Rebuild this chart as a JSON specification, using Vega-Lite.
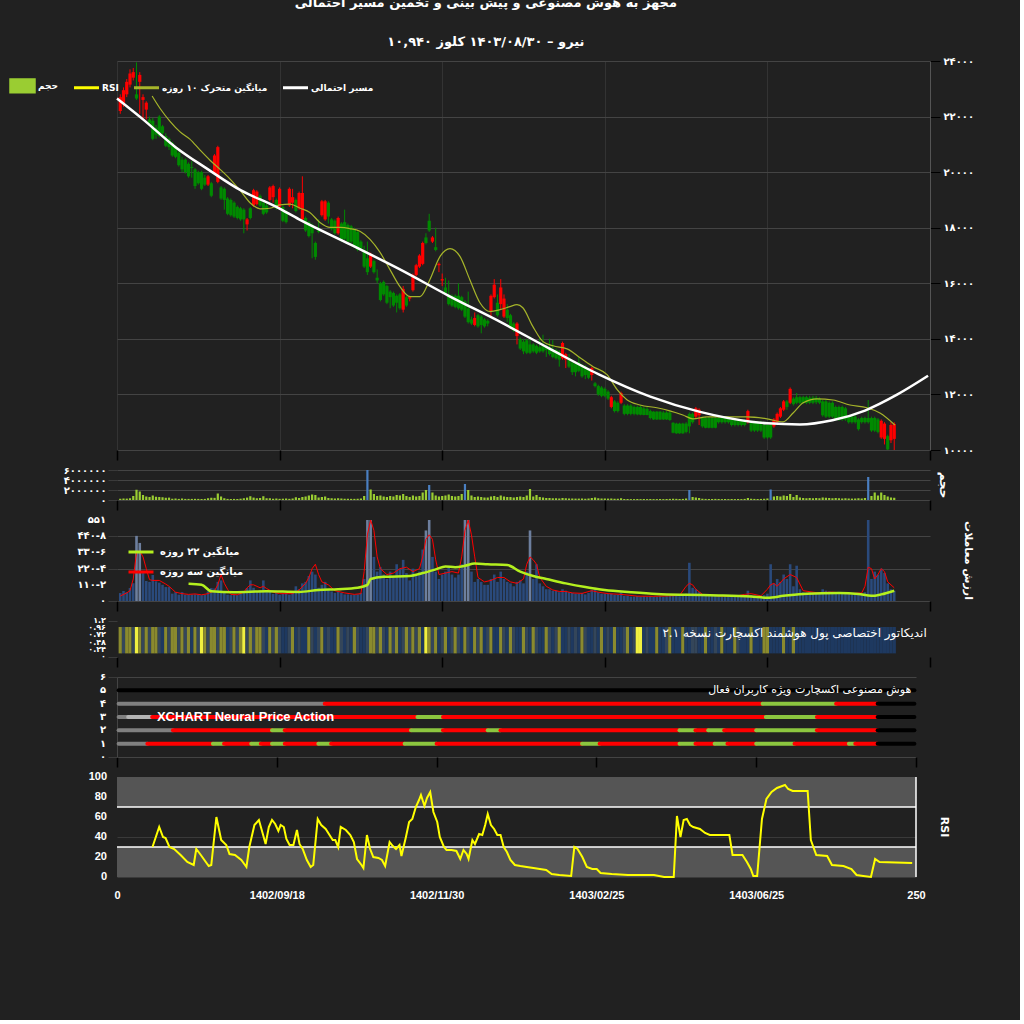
{
"$schema":"https://vega.github.io/schema/vega-lite/v6.json",
"background":"#212121",
"padding":{"left":18,"right":46,"top":-3,"bottom":120},
"title":{"text":["مجهز به هوش مصنوعی و پیش بینی و تخمین مسیر احتمالی","نیرو – ۱۴۰۳/۰۸/۳۰ کلوز ۱۰,۹۴۰"],"color":"white","font":"DejaVu Sans","fontSize":13,"fontWeight":"bold","anchor":"middle","offset":7,"lineHeight":39,"dx":-10},
"config":{"view":{"stroke":null},"axis":{"labelFlush":false,"labelBound":false,"titleColor":"white","labelColor":"white","labelFont":"DejaVu Sans","labelFontWeight":"bold"}},
"datasets":{
"c":[
{"i":1,"o":22200,"h":22800,"l":22100,"c":22700,"v":250000,"val":54,"s":2},
{"i":2,"o":22450,"h":23050,"l":22350,"c":22950,"v":300000,"val":68,"s":1},
{"i":3,"o":22800,"h":23350,"l":22700,"c":23250,"v":280000,"val":60,"s":2},
{"i":4,"o":23150,"h":23700,"l":23050,"c":23550,"v":350000,"val":88,"s":2},
{"i":5,"o":23400,"h":23750,"l":23300,"c":23600,"v":800000,"val":120,"s":1},
{"i":6,"o":22800,"h":23950,"l":22600,"c":22650,"v":2050000,"val":443,"s":3,"vc":"l"},
{"i":7,"o":23250,"h":23600,"l":22100,"c":23500,"v":1700000,"val":395,"s":2,"vc":"l"},
{"i":8,"o":22600,"h":22800,"l":21900,"c":22700,"v":1000000,"val":190,"s":1},
{"i":9,"o":22250,"h":22550,"l":21900,"c":22500,"v":700000,"val":136,"s":2},
{"i":10,"o":21900,"h":22000,"l":21700,"c":21750,"v":600000,"val":130,"s":1},
{"i":11,"o":21850,"h":21950,"l":21150,"c":21200,"v":900000,"val":177,"s":2},
{"i":12,"o":21600,"h":21700,"l":21200,"c":21350,"v":650000,"val":134,"s":2},
{"i":13,"o":22000,"h":22050,"l":21250,"c":21300,"v":600000,"val":125,"s":1},
{"i":14,"o":21650,"h":21700,"l":21300,"c":21400,"v":550000,"val":110,"s":0},
{"i":15,"o":21300,"h":21400,"l":20900,"c":20950,"v":450000,"val":95,"s":2},
{"i":16,"o":21200,"h":21250,"l":20800,"c":20900,"v":480000,"val":95,"s":1},
{"i":17,"o":21050,"h":21100,"l":20550,"c":20600,"v":250000,"val":50,"s":2},
{"i":18,"o":20900,"h":20950,"l":20500,"c":20550,"v":300000,"val":60,"s":2},
{"i":19,"o":20700,"h":20750,"l":20200,"c":20250,"v":220000,"val":43,"s":1},
{"i":20,"o":20450,"h":20550,"l":20000,"c":20100,"v":300000,"val":60,"s":2},
{"i":21,"o":20450,"h":20500,"l":19950,"c":20000,"v":220000,"val":43,"s":1},
{"i":22,"o":20300,"h":20350,"l":19800,"c":19850,"v":220000,"val":43,"s":2},
{"i":23,"o":20180,"h":20400,"l":19800,"c":20150,"v":220000,"val":43,"s":0},
{"i":24,"o":20100,"h":20150,"l":19400,"c":19500,"v":230000,"val":45,"s":2},
{"i":25,"o":20000,"h":20050,"l":19550,"c":19600,"v":220000,"val":43,"s":1},
{"i":26,"o":20000,"h":20050,"l":19350,"c":19400,"v":200000,"val":40,"s":3},
{"i":27,"o":19800,"h":19900,"l":19500,"c":19550,"v":220000,"val":43,"s":2},
{"i":28,"o":19550,"h":19900,"l":19500,"c":19850,"v":350000,"val":66,"s":1},
{"i":29,"o":19600,"h":19650,"l":19100,"c":19150,"v":450000,"val":88,"s":2},
{"i":30,"o":19950,"h":20650,"l":19900,"c":20600,"v":430000,"val":85,"s":2},
{"i":31,"o":19650,"h":20950,"l":19600,"c":20900,"v":1300000,"val":130,"s":1},
{"i":32,"o":19450,"h":19500,"l":19000,"c":19050,"v":700000,"val":140,"s":2},
{"i":33,"o":19400,"h":19450,"l":18650,"c":19000,"v":350000,"val":66,"s":2},
{"i":34,"o":19050,"h":19100,"l":18450,"c":18500,"v":220000,"val":43,"s":0},
{"i":35,"o":19000,"h":19050,"l":18400,"c":18450,"v":200000,"val":40,"s":1},
{"i":36,"o":18900,"h":18950,"l":18350,"c":18400,"v":220000,"val":43,"s":2},
{"i":37,"o":18750,"h":18800,"l":18300,"c":18350,"v":200000,"val":40,"s":1},
{"i":38,"o":18700,"h":18750,"l":18250,"c":18300,"v":260000,"val":50,"s":2},
{"i":39,"o":18650,"h":18700,"l":17800,"c":18300,"v":350000,"val":66,"s":3},
{"i":40,"o":18120,"h":18350,"l":17900,"c":18300,"v":480000,"val":88,"s":1},
{"i":41,"o":18700,"h":18750,"l":18300,"c":18350,"v":750000,"val":140,"s":2},
{"i":42,"o":18800,"h":19400,"l":18750,"c":19350,"v":480000,"val":90,"s":1},
{"i":43,"o":18850,"h":19350,"l":18800,"c":19300,"v":350000,"val":66,"s":2},
{"i":44,"o":19150,"h":19200,"l":18750,"c":18800,"v":400000,"val":75,"s":2},
{"i":45,"o":18900,"h":18950,"l":18450,"c":18500,"v":750000,"val":140,"s":1},
{"i":46,"o":18800,"h":18900,"l":18500,"c":18550,"v":350000,"val":66,"s":0},
{"i":47,"o":19000,"h":19500,"l":18950,"c":19450,"v":350000,"val":66,"s":2},
{"i":48,"o":19100,"h":19550,"l":18900,"c":19500,"v":250000,"val":48,"s":1},
{"i":49,"o":19000,"h":19050,"l":18650,"c":18700,"v":300000,"val":55,"s":2},
{"i":50,"o":18750,"h":19450,"l":18700,"c":19400,"v":230000,"val":43,"s":1},
{"i":51,"o":18750,"h":18800,"l":18200,"c":18250,"v":260000,"val":48,"s":0},
{"i":52,"o":18600,"h":18650,"l":18150,"c":18200,"v":300000,"val":55,"s":0},
{"i":53,"o":18800,"h":19450,"l":18750,"c":19400,"v":230000,"val":43,"s":1},
{"i":54,"o":18900,"h":19400,"l":18700,"c":19100,"v":300000,"val":55,"s":2},
{"i":55,"o":19000,"h":19050,"l":18550,"c":18600,"v":550000,"val":100,"s":0},
{"i":56,"o":18700,"h":19300,"l":18650,"c":19250,"v":400000,"val":80,"s":1},
{"i":57,"o":18300,"h":19850,"l":18250,"c":19250,"v":600000,"val":120,"s":0},
{"i":58,"o":18350,"h":18400,"l":17850,"c":17900,"v":700000,"val":130,"s":0},
{"i":59,"o":18200,"h":18250,"l":17650,"c":17700,"v":900000,"val":170,"s":2},
{"i":60,"o":18100,"h":18150,"l":16900,"c":17800,"v":1100000,"val":200,"s":1},
{"i":61,"o":17450,"h":17500,"l":16850,"c":16950,"v":1000000,"val":180,"s":0},
{"i":62,"o":17900,"h":18300,"l":17800,"c":17850,"v":500000,"val":90,"s":1},
{"i":63,"o":18450,"h":19000,"l":18400,"c":18950,"v":600000,"val":110,"s":2},
{"i":64,"o":18300,"h":19000,"l":18250,"c":18950,"v":700000,"val":130,"s":0},
{"i":65,"o":18900,"h":18950,"l":18150,"c":18400,"v":400000,"val":75,"s":1},
{"i":66,"o":18300,"h":18350,"l":17900,"c":17950,"v":350000,"val":65,"s":0},
{"i":67,"o":18250,"h":18300,"l":17750,"c":17800,"v":300000,"val":55,"s":0},
{"i":68,"o":17800,"h":18400,"l":17750,"c":18350,"v":350000,"val":65,"s":2},
{"i":69,"o":18150,"h":18200,"l":17500,"c":17550,"v":300000,"val":55,"s":1},
{"i":70,"o":18200,"h":18650,"l":17550,"c":17600,"v":250000,"val":45,"s":0},
{"i":71,"o":18100,"h":18150,"l":17450,"c":17500,"v":250000,"val":45,"s":1},
{"i":72,"o":18050,"h":18100,"l":17450,"c":17500,"v":230000,"val":42,"s":0},
{"i":73,"o":17950,"h":18000,"l":17300,"c":17350,"v":230000,"val":42,"s":2},
{"i":74,"o":17850,"h":17900,"l":17150,"c":17200,"v":250000,"val":45,"s":1},
{"i":75,"o":17500,"h":17550,"l":17200,"c":17250,"v":300000,"val":55,"s":0},
{"i":76,"o":17200,"h":17350,"l":16550,"c":16600,"v":800000,"val":150,"s":0},
{"i":77,"o":16900,"h":17500,"l":16300,"c":16400,"v":6200000,"val":600,"s":1,"vk":"b","vc":"l"},
{"i":78,"o":16600,"h":17100,"l":16550,"c":17050,"v":2100000,"val":560,"s":2,"vc":"l"},
{"i":79,"o":16800,"h":16850,"l":16350,"c":16400,"v":1200000,"val":300,"s":2},
{"i":80,"o":16200,"h":16500,"l":16000,"c":16100,"v":800000,"val":200,"s":1},
{"i":81,"o":16000,"h":16050,"l":15350,"c":15400,"v":900000,"val":230,"s":2},
{"i":82,"o":16050,"h":16100,"l":15550,"c":15600,"v":700000,"val":180,"s":1},
{"i":83,"o":15900,"h":15950,"l":15250,"c":15300,"v":600000,"val":150,"s":0},
{"i":84,"o":15700,"h":15750,"l":15100,"c":15500,"v":800000,"val":200,"s":2},
{"i":85,"o":15650,"h":15700,"l":15150,"c":15200,"v":700000,"val":170,"s":1},
{"i":86,"o":15550,"h":15600,"l":14950,"c":15300,"v":1000000,"val":250,"s":2},
{"i":87,"o":15600,"h":15650,"l":15050,"c":15100,"v":900000,"val":220,"s":0},
{"i":88,"o":15050,"h":15900,"l":14950,"c":15800,"v":1200000,"val":280,"s":1},
{"i":89,"o":15500,"h":15550,"l":15150,"c":15200,"v":800000,"val":190,"s":2},
{"i":90,"o":15450,"h":15550,"l":15350,"c":15500,"v":600000,"val":140,"s":1},
{"i":91,"o":15750,"h":16350,"l":15700,"c":16300,"v":900000,"val":220,"s":2},
{"i":92,"o":16300,"h":16700,"l":16250,"c":16650,"v":700000,"val":170,"s":1},
{"i":93,"o":16600,"h":17050,"l":16550,"c":17000,"v":800000,"val":200,"s":2},
{"i":94,"o":16700,"h":17500,"l":16650,"c":17450,"v":1500000,"val":350,"s":0},
{"i":95,"o":17650,"h":17800,"l":17400,"c":17450,"v":2000000,"val":480,"s":3,"vc":"l"},
{"i":96,"o":18250,"h":18500,"l":17850,"c":17900,"v":3000000,"val":560,"s":2,"vk":"b","vc":"l"},
{"i":97,"o":17500,"h":17700,"l":17450,"c":17650,"v":1500000,"val":300,"s":1},
{"i":98,"o":17300,"h":18000,"l":17150,"c":17200,"v":900000,"val":200,"s":2},
{"i":99,"o":16650,"h":16750,"l":16400,"c":16700,"v":700000,"val":150,"s":0},
{"i":100,"o":16100,"h":16350,"l":15900,"c":16150,"v":800000,"val":180,"s":1},
{"i":101,"o":15850,"h":16200,"l":15600,"c":15650,"v":900000,"val":200,"s":2},
{"i":102,"o":15600,"h":16100,"l":15200,"c":15250,"v":1100000,"val":230,"s":0},
{"i":103,"o":15550,"h":15600,"l":15150,"c":15200,"v":800000,"val":180,"s":1},
{"i":104,"o":15550,"h":15600,"l":15100,"c":15150,"v":700000,"val":160,"s":2},
{"i":105,"o":15550,"h":16000,"l":15050,"c":15100,"v":800000,"val":180,"s":1},
{"i":106,"o":15500,"h":15550,"l":15000,"c":15050,"v":1200000,"val":250,"s":0},
{"i":107,"o":15350,"h":15400,"l":14750,"c":14800,"v":3200000,"val":600,"s":2,"vk":"b","vc":"l"},
{"i":108,"o":15100,"h":15700,"l":14550,"c":14600,"v":2000000,"val":560,"s":1,"vc":"l"},
{"i":109,"o":14700,"h":14800,"l":14500,"c":14550,"v":900000,"val":200,"s":0},
{"i":110,"o":14500,"h":14950,"l":14450,"c":14750,"v":600000,"val":130,"s":2},
{"i":111,"o":14850,"h":14900,"l":14400,"c":14450,"v":700000,"val":150,"s":1},
{"i":112,"o":14800,"h":14850,"l":14200,"c":14500,"v":600000,"val":130,"s":2},
{"i":113,"o":14700,"h":14750,"l":14400,"c":14450,"v":500000,"val":110,"s":0},
{"i":114,"o":14650,"h":14700,"l":14450,"c":14550,"v":500000,"val":110,"s":1},
{"i":115,"o":15000,"h":15600,"l":14800,"c":15550,"v":700000,"val":150,"s":2},
{"i":116,"o":15500,"h":16150,"l":15450,"c":15950,"v":800000,"val":180,"s":0},
{"i":117,"o":15300,"h":15600,"l":14800,"c":14850,"v":600000,"val":130,"s":0},
{"i":118,"o":15250,"h":16150,"l":15050,"c":15850,"v":900000,"val":200,"s":2},
{"i":119,"o":14800,"h":15600,"l":14750,"c":15450,"v":700000,"val":150,"s":1},
{"i":120,"o":15050,"h":15250,"l":14600,"c":14750,"v":600000,"val":130,"s":0},
{"i":121,"o":14850,"h":14900,"l":14350,"c":14400,"v":600000,"val":120,"s":2},
{"i":122,"o":14550,"h":14600,"l":14250,"c":14300,"v":500000,"val":100,"s":1},
{"i":123,"o":14100,"h":14600,"l":13800,"c":14550,"v":600000,"val":130,"s":0},
{"i":124,"o":14000,"h":14050,"l":13600,"c":13650,"v":700000,"val":140,"s":0},
{"i":125,"o":13900,"h":14000,"l":13450,"c":13550,"v":600000,"val":120,"s":2},
{"i":126,"o":13950,"h":14000,"l":13450,"c":13500,"v":900000,"val":200,"s":1},
{"i":127,"o":13800,"h":14100,"l":13450,"c":13500,"v":2200000,"val":480,"s":0,"vc":"l"},
{"i":128,"o":13800,"h":13850,"l":13500,"c":13550,"v":700000,"val":150,"s":2},
{"i":129,"o":13750,"h":13800,"l":13450,"c":13500,"v":1000000,"val":250,"s":1},
{"i":130,"o":13700,"h":14050,"l":13500,"c":13550,"v":600000,"val":120,"s":0},
{"i":131,"o":13750,"h":14150,"l":13500,"c":13550,"v":500000,"val":100,"s":0},
{"i":132,"o":13750,"h":13800,"l":13350,"c":13600,"v":400000,"val":80,"s":2},
{"i":133,"o":13700,"h":14000,"l":13400,"c":13450,"v":400000,"val":80,"s":1},
{"i":134,"o":13550,"h":13950,"l":13300,"c":13350,"v":350000,"val":70,"s":0},
{"i":135,"o":13600,"h":13650,"l":13250,"c":13300,"v":350000,"val":70,"s":1},
{"i":136,"o":13550,"h":13600,"l":13000,"c":13250,"v":300000,"val":60,"s":2},
{"i":137,"o":13300,"h":13900,"l":13250,"c":13850,"v":400000,"val":80,"s":0},
{"i":138,"o":13250,"h":13500,"l":12950,"c":13450,"v":350000,"val":70,"s":0},
{"i":139,"o":13300,"h":13450,"l":12950,"c":13000,"v":300000,"val":60,"s":1},
{"i":140,"o":13150,"h":13200,"l":12700,"c":12800,"v":300000,"val":55,"s":0},
{"i":141,"o":13100,"h":13150,"l":12650,"c":12800,"v":280000,"val":50,"s":1},
{"i":142,"o":13150,"h":13350,"l":12800,"c":12850,"v":280000,"val":50,"s":0},
{"i":143,"o":13050,"h":13100,"l":12600,"c":12650,"v":300000,"val":55,"s":2},
{"i":144,"o":13000,"h":13050,"l":12550,"c":12700,"v":250000,"val":45,"s":1},
{"i":145,"o":12900,"h":12950,"l":12550,"c":12600,"v":300000,"val":55,"s":0},
{"i":146,"o":12700,"h":13000,"l":12500,"c":12950,"v":400000,"val":75,"s":0},
{"i":147,"o":12400,"h":12450,"l":12250,"c":12300,"v":500000,"val":90,"s":1},
{"i":148,"o":12300,"h":12350,"l":11950,"c":12000,"v":350000,"val":60,"s":0},
{"i":149,"o":12250,"h":12300,"l":11900,"c":11950,"v":300000,"val":50,"s":2},
{"i":150,"o":12200,"h":12250,"l":11900,"c":11950,"v":300000,"val":50,"s":0},
{"i":151,"o":12100,"h":12150,"l":11800,"c":11850,"v":280000,"val":48,"s":1},
{"i":152,"o":11550,"h":11950,"l":11500,"c":11900,"v":300000,"val":50,"s":0},
{"i":153,"o":11750,"h":11800,"l":11350,"c":11400,"v":250000,"val":42,"s":2},
{"i":154,"o":11700,"h":11750,"l":11350,"c":11400,"v":250000,"val":42,"s":0},
{"i":155,"o":11700,"h":12100,"l":11650,"c":12050,"v":350000,"val":60,"s":0},
{"i":156,"o":11600,"h":11650,"l":11250,"c":11300,"v":200000,"val":35,"s":1},
{"i":157,"o":11600,"h":11650,"l":11250,"c":11300,"v":200000,"val":35,"s":2},
{"i":158,"o":11600,"h":11650,"l":11250,"c":11300,"v":180000,"val":30,"s":0},
{"i":159,"o":11550,"h":11600,"l":11250,"c":11300,"v":180000,"val":30,"s":1},
{"i":160,"o":11550,"h":11600,"l":11250,"c":11280,"v":200000,"val":33,"s":3},
{"i":161,"o":11550,"h":11600,"l":11250,"c":11270,"v":180000,"val":30,"s":3},
{"i":162,"o":11500,"h":11550,"l":11250,"c":11260,"v":200000,"val":33,"s":0},
{"i":163,"o":11480,"h":11550,"l":11250,"c":11260,"v":180000,"val":30,"s":1},
{"i":164,"o":11400,"h":11450,"l":11100,"c":11150,"v":200000,"val":33,"s":0},
{"i":165,"o":11380,"h":11400,"l":11080,"c":11100,"v":180000,"val":30,"s":0},
{"i":166,"o":11380,"h":11400,"l":11080,"c":11100,"v":180000,"val":30,"s":2},
{"i":167,"o":11380,"h":11400,"l":11080,"c":11100,"v":200000,"val":33,"s":0},
{"i":168,"o":11350,"h":11400,"l":11080,"c":11100,"v":180000,"val":30,"s":0},
{"i":169,"o":11350,"h":11400,"l":11080,"c":11100,"v":200000,"val":33,"s":1},
{"i":170,"o":11350,"h":11400,"l":11050,"c":11080,"v":220000,"val":36,"s":2},
{"i":171,"o":10980,"h":11000,"l":10600,"c":10620,"v":250000,"val":40,"s":0},
{"i":172,"o":10950,"h":10980,"l":10580,"c":10600,"v":230000,"val":38,"s":0},
{"i":173,"o":10950,"h":10980,"l":10580,"c":10600,"v":200000,"val":33,"s":0},
{"i":174,"o":10950,"h":10980,"l":10580,"c":10600,"v":220000,"val":36,"s":2},
{"i":175,"o":10950,"h":11000,"l":10600,"c":10650,"v":300000,"val":50,"s":0},
{"i":176,"o":11300,"h":11350,"l":10600,"c":10850,"v":2000000,"val":260,"s":0,"vk":"b"},
{"i":177,"o":11300,"h":11350,"l":10950,"c":11000,"v":600000,"val":90,"s":1},
{"i":178,"o":11200,"h":11550,"l":11150,"c":11500,"v":500000,"val":80,"s":1},
{"i":179,"o":11250,"h":11500,"l":10900,"c":11450,"v":400000,"val":60,"s":0},
{"i":180,"o":11150,"h":11200,"l":10800,"c":10850,"v":250000,"val":40,"s":0},
{"i":181,"o":11150,"h":11200,"l":10780,"c":10800,"v":220000,"val":36,"s":2},
{"i":182,"o":11150,"h":11200,"l":10780,"c":10800,"v":200000,"val":33,"s":0},
{"i":183,"o":11150,"h":11200,"l":10780,"c":10800,"v":200000,"val":33,"s":0},
{"i":184,"o":11150,"h":11200,"l":10780,"c":10800,"v":220000,"val":36,"s":1},
{"i":185,"o":11150,"h":11200,"l":10950,"c":11000,"v":200000,"val":33,"s":0},
{"i":186,"o":11150,"h":11200,"l":10950,"c":11000,"v":180000,"val":30,"s":2},
{"i":187,"o":11150,"h":11200,"l":10950,"c":11000,"v":200000,"val":33,"s":0},
{"i":188,"o":11150,"h":11200,"l":10950,"c":11000,"v":180000,"val":30,"s":0},
{"i":189,"o":11080,"h":11100,"l":10850,"c":10900,"v":200000,"val":33,"s":0},
{"i":190,"o":11080,"h":11100,"l":10850,"c":10900,"v":180000,"val":30,"s":2},
{"i":191,"o":11080,"h":11100,"l":10850,"c":10900,"v":200000,"val":33,"s":1},
{"i":192,"o":11080,"h":11100,"l":10850,"c":10900,"v":180000,"val":30,"s":0},
{"i":193,"o":11050,"h":11100,"l":10850,"c":10900,"v":220000,"val":36,"s":0},
{"i":194,"o":11000,"h":11450,"l":10950,"c":11400,"v":400000,"val":70,"s":0},
{"i":195,"o":11000,"h":11050,"l":10650,"c":10700,"v":250000,"val":40,"s":2},
{"i":196,"o":11000,"h":11050,"l":10650,"c":10700,"v":220000,"val":36,"s":0},
{"i":197,"o":11000,"h":11050,"l":10650,"c":10700,"v":200000,"val":33,"s":0},
{"i":198,"o":11000,"h":11050,"l":10650,"c":10700,"v":220000,"val":36,"s":0},
{"i":199,"o":10900,"h":10950,"l":10400,"c":10450,"v":250000,"val":40,"s":2},
{"i":200,"o":10900,"h":10950,"l":10400,"c":10450,"v":300000,"val":50,"s":2},
{"i":201,"o":10900,"h":10950,"l":10400,"c":10450,"v":2100000,"val":250,"s":0,"vk":"b"},
{"i":202,"o":10850,"h":11150,"l":10800,"c":11100,"v":700000,"val":120,"s":0},
{"i":203,"o":11000,"h":11350,"l":10950,"c":11300,"v":800000,"val":150,"s":0},
{"i":204,"o":11200,"h":11550,"l":11150,"c":11500,"v":700000,"val":130,"s":0},
{"i":205,"o":11450,"h":11800,"l":11400,"c":11750,"v":900000,"val":180,"s":2},
{"i":206,"o":11750,"h":11800,"l":11450,"c":11550,"v":800000,"val":150,"s":0},
{"i":207,"o":11700,"h":12250,"l":11650,"c":12200,"v":1200000,"val":250,"s":0},
{"i":208,"o":11850,"h":11900,"l":11600,"c":11650,"v":600000,"val":100,"s":2},
{"i":209,"o":11900,"h":12050,"l":11650,"c":11700,"v":1000000,"val":240,"s":0},
{"i":210,"o":11900,"h":11950,"l":11650,"c":11700,"v":500000,"val":80,"s":0},
{"i":211,"o":11900,"h":11950,"l":11650,"c":11700,"v":400000,"val":60,"s":0},
{"i":212,"o":11900,"h":11950,"l":11650,"c":11700,"v":350000,"val":55,"s":0},
{"i":213,"o":11880,"h":11950,"l":11650,"c":11700,"v":400000,"val":60,"s":0},
{"i":214,"o":11880,"h":11950,"l":11650,"c":11700,"v":350000,"val":55,"s":0},
{"i":215,"o":11880,"h":11950,"l":11650,"c":11720,"v":400000,"val":60,"s":0},
{"i":216,"o":11850,"h":11900,"l":11650,"c":11700,"v":350000,"val":55,"s":0},
{"i":217,"o":11750,"h":11800,"l":11200,"c":11250,"v":500000,"val":80,"s":0},
{"i":218,"o":11750,"h":11800,"l":11150,"c":11200,"v":450000,"val":70,"s":0},
{"i":219,"o":11700,"h":11750,"l":11150,"c":11200,"v":400000,"val":65,"s":0},
{"i":220,"o":11700,"h":11750,"l":11150,"c":11200,"v":350000,"val":55,"s":0},
{"i":221,"o":11550,"h":11600,"l":11050,"c":11100,"v":400000,"val":60,"s":0},
{"i":222,"o":11550,"h":11600,"l":11050,"c":11100,"v":350000,"val":55,"s":0},
{"i":223,"o":11550,"h":11600,"l":11050,"c":11100,"v":300000,"val":50,"s":0},
{"i":224,"o":11500,"h":11550,"l":11050,"c":11100,"v":350000,"val":55,"s":0},
{"i":225,"o":11200,"h":11250,"l":10950,"c":11000,"v":300000,"val":50,"s":0},
{"i":226,"o":11200,"h":11250,"l":10950,"c":11000,"v":280000,"val":45,"s":0},
{"i":227,"o":11200,"h":11250,"l":10950,"c":11000,"v":300000,"val":50,"s":0},
{"i":228,"o":11100,"h":11150,"l":10700,"c":10750,"v":350000,"val":55,"s":0},
{"i":229,"o":11150,"h":11200,"l":10950,"c":11000,"v":300000,"val":50,"s":0},
{"i":230,"o":11150,"h":11200,"l":10950,"c":11000,"v":400000,"val":60,"s":0},
{"i":231,"o":11150,"h":11800,"l":10950,"c":11000,"v":4600000,"val":600,"s":0,"vk":"b"},
{"i":232,"o":11150,"h":11200,"l":10650,"c":10700,"v":800000,"val":150,"s":0},
{"i":233,"o":11150,"h":11200,"l":10650,"c":10700,"v":1500000,"val":200,"s":0},
{"i":234,"o":11100,"h":11150,"l":10600,"c":10650,"v":900000,"val":180,"s":0},
{"i":235,"o":10450,"h":11100,"l":10400,"c":11050,"v":1500000,"val":220,"s":0},
{"i":236,"o":10400,"h":11000,"l":10200,"c":10950,"v":1000000,"val":190,"s":0},
{"i":237,"o":10500,"h":10550,"l":10000,"c":10020,"v":700000,"val":120,"s":0},
{"i":238,"o":10350,"h":11000,"l":10250,"c":10900,"v":500000,"val":80,"s":0},
{"i":239,"o":10400,"h":11000,"l":10000,"c":10940,"v":450000,"val":70,"s":0}
],
"ma":[{"i":10.8,"p":22740},{"i":13.2,"p":22300},{"i":16.3,"p":21830},{"i":19.4,"p":21450},{"i":22.4,"p":21190},{"i":25.5,"p":20800},{"i":28.6,"p":20430},{"i":31.7,"p":20100},{"i":34.7,"p":19760},{"i":37.8,"p":19350},{"i":40.9,"p":18900},{"i":44,"p":18680},{"i":47,"p":18700},{"i":50.1,"p":18820},{"i":53.2,"p":18850},{"i":56.3,"p":18700},{"i":59.3,"p":18550},{"i":62.4,"p":18190},{"i":65.5,"p":18010},{"i":68.6,"p":18010},{"i":71.6,"p":17970},{"i":74.7,"p":17870},{"i":77.8,"p":17580},{"i":80.9,"p":17110},{"i":83.9,"p":16500},{"i":87,"p":15880},{"i":90.1,"p":15520},{"i":93.2,"p":15520},{"i":96.2,"p":16130},{"i":99.3,"p":16960},{"i":102.4,"p":17250},{"i":105.5,"p":16960},{"i":108.5,"p":16130},{"i":111.6,"p":15300},{"i":114.7,"p":14980},{"i":117.8,"p":15050},{"i":120.8,"p":15160},{"i":123,"p":15230},{"i":124.8,"p":15120},{"i":127.9,"p":14440},{"i":131,"p":13900},{"i":134.1,"p":13750},{"i":138.4,"p":13640},{"i":142.4,"p":13320},{"i":146.4,"p":13000},{"i":150.7,"p":12710},{"i":153.8,"p":12170},{"i":156.8,"p":11810},{"i":160.8,"p":11620},{"i":166,"p":11520},{"i":170,"p":11410},{"i":174,"p":11260},{"i":177.1,"p":11120},{"i":181.4,"p":11190},{"i":185.4,"p":11190},{"i":193.7,"p":11190},{"i":199.9,"p":11120},{"i":204.8,"p":11010},{"i":207.9,"p":11330},{"i":211,"p":11700},{"i":215.3,"p":11840},{"i":220.2,"p":11800},{"i":225.4,"p":11620},{"i":230.6,"p":11520},{"i":234.6,"p":11330},{"i":239.2,"p":10900}],
"path":[{"i":0,"p":22650},{"i":8,"p":21900},{"i":18,"p":20900},{"i":28,"p":20100},{"i":38,"p":19350},{"i":49,"p":18750},{"i":56,"p":18300},{"i":72,"p":17380},{"i":87,"p":16500},{"i":102,"p":15550},{"i":118,"p":14600},{"i":133,"p":13650},{"i":148,"p":12730},{"i":164,"p":11920},{"i":179,"p":11380},{"i":195,"p":11020},{"i":200,"p":10960},{"i":210,"p":10920},{"i":220,"p":11070},{"i":230,"p":11420},{"i":240,"p":12000},{"i":249.4,"p":12670}],
"m3":[{"i":1,"p":34},{"i":3,"p":55},{"i":4,"p":70},{"i":5,"p":150},{"i":6,"p":330},{"i":7,"p":340},{"i":8,"p":300},{"i":9,"p":220},{"i":10,"p":145},{"i":11,"p":140},{"i":13,"p":140},{"i":15,"p":115},{"i":16,"p":100},{"i":17,"p":80},{"i":18,"p":60},{"i":20,"p":50},{"i":22,"p":45},{"i":24,"p":48},{"i":26,"p":42},{"i":28,"p":50},{"i":30,"p":70},{"i":31,"p":110},{"i":32,"p":180},{"i":33,"p":120},{"i":34,"p":80},{"i":35,"p":45},{"i":37,"p":42},{"i":39,"p":60},{"i":40,"p":90},{"i":41,"p":110},{"i":42,"p":110},{"i":44,"p":90},{"i":45,"p":100},{"i":46,"p":85},{"i":48,"p":60},{"i":50,"p":50},{"i":52,"p":50},{"i":54,"p":50},{"i":56,"p":75},{"i":58,"p":120},{"i":59,"p":160},{"i":60,"p":220},{"i":61,"p":250},{"i":62,"p":180},{"i":63,"p":130},{"i":65,"p":110},{"i":67,"p":70},{"i":70,"p":55},{"i":73,"p":45},{"i":75,"p":50},{"i":76,"p":200},{"i":77,"p":450},{"i":78,"p":551},{"i":79,"p":480},{"i":80,"p":300},{"i":81,"p":220},{"i":83,"p":180},{"i":85,"p":190},{"i":87,"p":220},{"i":89,"p":230},{"i":91,"p":200},{"i":93,"p":220},{"i":94,"p":300},{"i":95,"p":420},{"i":96,"p":450},{"i":97,"p":420},{"i":98,"p":280},{"i":99,"p":180},{"i":101,"p":190},{"i":103,"p":200},{"i":105,"p":190},{"i":106,"p":300},{"i":107,"p":480},{"i":108,"p":551},{"i":109,"p":450},{"i":110,"p":300},{"i":111,"p":160},{"i":113,"p":130},{"i":115,"p":140},{"i":117,"p":160},{"i":119,"p":160},{"i":121,"p":130},{"i":123,"p":120},{"i":125,"p":150},{"i":126,"p":250},{"i":127,"p":300},{"i":128,"p":280},{"i":129,"p":250},{"i":130,"p":160},{"i":132,"p":100},{"i":134,"p":75},{"i":136,"p":65},{"i":138,"p":65},{"i":140,"p":55},{"i":143,"p":52},{"i":146,"p":70},{"i":148,"p":60},{"i":151,"p":50},{"i":155,"p":45},{"i":160,"p":33},{"i":165,"p":32},{"i":170,"p":35},{"i":173,"p":38},{"i":175,"p":100},{"i":176,"p":120},{"i":177,"p":110},{"i":178,"p":80},{"i":180,"p":45},{"i":185,"p":35},{"i":190,"p":32},{"i":193,"p":45},{"i":195,"p":50},{"i":198,"p":35},{"i":200,"p":80},{"i":201,"p":110},{"i":202,"p":120},{"i":203,"p":100},{"i":205,"p":150},{"i":207,"p":180},{"i":209,"p":160},{"i":211,"p":70},{"i":215,"p":57},{"i":220,"p":60},{"i":225,"p":50},{"i":229,"p":55},{"i":230,"p":100},{"i":231,"p":230},{"i":232,"p":220},{"i":233,"p":150},{"i":234,"p":180},{"i":235,"p":220},{"i":236,"p":200},{"i":237,"p":130},{"i":239,"p":90}],
"m22":[{"i":22,"p":118},{"i":26,"p":111},{"i":29,"p":66},{"i":36,"p":60},{"i":46,"p":66},{"i":56,"p":62},{"i":62,"p":75},{"i":68,"p":80},{"i":74,"p":90},{"i":77,"p":110},{"i":78,"p":150},{"i":82,"p":165},{"i":90,"p":170},{"i":94,"p":190},{"i":98,"p":215},{"i":101,"p":235},{"i":104,"p":230},{"i":107,"p":240},{"i":110,"p":255},{"i":114,"p":250},{"i":120,"p":245},{"i":124,"p":200},{"i":128,"p":170},{"i":132,"p":150},{"i":138,"p":120},{"i":144,"p":95},{"i":150,"p":75},{"i":158,"p":60},{"i":166,"p":48},{"i":175,"p":42},{"i":185,"p":38},{"i":195,"p":30},{"i":200,"p":22},{"i":205,"p":35},{"i":212,"p":50},{"i":222,"p":55},{"i":228,"p":48},{"i":232,"p":35},{"i":235,"p":45},{"i":239,"p":70}],
"rsi":[{"i":11.1,"r":30},{"i":13.2,"r":50},{"i":14.4,"r":40},{"i":15.2,"r":39},{"i":16.4,"r":30},{"i":17.9,"r":28},{"i":19.9,"r":22},{"i":22,"r":15},{"i":24,"r":12},{"i":24.8,"r":28},{"i":26,"r":23},{"i":28.7,"r":11},{"i":29.5,"r":12},{"i":31.1,"r":60},{"i":32.6,"r":37},{"i":34.2,"r":32},{"i":35.2,"r":23},{"i":36.9,"r":22},{"i":38.9,"r":17},{"i":40.5,"r":10},{"i":41.4,"r":30},{"i":43,"r":52},{"i":44.4,"r":57},{"i":45.9,"r":40},{"i":46.5,"r":33},{"i":47.5,"r":50},{"i":48.5,"r":57},{"i":49.5,"r":53},{"i":50.5,"r":46},{"i":51.2,"r":52},{"i":52.2,"r":50},{"i":53,"r":38},{"i":54,"r":32},{"i":55.2,"r":32},{"i":56.3,"r":47},{"i":57.1,"r":33},{"i":58.1,"r":28},{"i":59.4,"r":17},{"i":60.6,"r":10},{"i":61.4,"r":12},{"i":62.8,"r":58},{"i":63.9,"r":52},{"i":65.3,"r":48},{"i":66.5,"r":42},{"i":67.5,"r":37},{"i":68.3,"r":37},{"i":69.2,"r":30},{"i":70,"r":50},{"i":71.6,"r":47},{"i":73,"r":42},{"i":74.1,"r":35},{"i":75.1,"r":18},{"i":76.5,"r":12},{"i":77.1,"r":9},{"i":78.2,"r":42},{"i":79.2,"r":28},{"i":80.2,"r":20},{"i":81.8,"r":19},{"i":82.9,"r":17},{"i":83.9,"r":11},{"i":85.3,"r":35},{"i":86.3,"r":31},{"i":87.3,"r":28},{"i":88.4,"r":32},{"i":89,"r":21},{"i":90.4,"r":40},{"i":91.4,"r":55},{"i":92.4,"r":58},{"i":93.5,"r":70},{"i":94.5,"r":77},{"i":95.1,"r":82},{"i":96.2,"r":71},{"i":97,"r":79},{"i":98,"r":85},{"i":99,"r":65},{"i":100.2,"r":55},{"i":101,"r":40},{"i":102.3,"r":30},{"i":103.1,"r":27},{"i":104.7,"r":27},{"i":106.2,"r":26},{"i":107.4,"r":18},{"i":108.4,"r":27},{"i":109.4,"r":23},{"i":110,"r":18},{"i":111.2,"r":37},{"i":112,"r":33},{"i":113.3,"r":43},{"i":114.3,"r":42},{"i":115.2,"r":52},{"i":116,"r":63},{"i":117,"r":52},{"i":118,"r":48},{"i":119,"r":42},{"i":120,"r":42},{"i":121,"r":30},{"i":122,"r":25},{"i":123.1,"r":17},{"i":124.5,"r":12},{"i":126.2,"r":11},{"i":128.2,"r":10},{"i":130.3,"r":9},{"i":132.3,"r":8},{"i":134.3,"r":7},{"i":136,"r":3},{"i":138.4,"r":2},{"i":142.1,"r":1},{"i":143.1,"r":30},{"i":144.1,"r":28},{"i":145.6,"r":20},{"i":147,"r":10},{"i":148.7,"r":8},{"i":150.1,"r":8},{"i":151.3,"r":4},{"i":154.8,"r":3},{"i":159.9,"r":2},{"i":168,"r":2},{"i":171.2,"r":0},{"i":174.2,"r":0},{"i":175.2,"r":61},{"i":176.3,"r":40},{"i":177.3,"r":57},{"i":178.3,"r":58},{"i":179.3,"r":52},{"i":180.3,"r":50},{"i":182.4,"r":48},{"i":184,"r":44},{"i":185.5,"r":42},{"i":191.6,"r":42},{"i":192.6,"r":22},{"i":195.7,"r":22},{"i":197.1,"r":15},{"i":198.3,"r":8},{"i":199.1,"r":1},{"i":200.3,"r":1},{"i":201.8,"r":58},{"i":203.2,"r":78},{"i":204.8,"r":85},{"i":206.5,"r":89},{"i":209,"r":92},{"i":210,"r":88},{"i":211.4,"r":86},{"i":216.1,"r":86},{"i":217.1,"r":37},{"i":218.8,"r":22},{"i":222.2,"r":21},{"i":223.7,"r":12},{"i":227.3,"r":11},{"i":229.8,"r":8},{"i":231.4,"r":2},{"i":233.5,"r":1},{"i":235.9,"r":0},{"i":237.2,"r":18},{"i":238.6,"r":15},{"i":248.8,"r":14}],
"nn":[
{"row":5,"a":0.5,"b":249.5,"st":"black"},
{"row":4,"a":0.5,"b":65,"st":"gray"},{"row":4,"a":65,"b":202,"st":"red"},{"row":4,"a":202,"b":225,"st":"green"},{"row":4,"a":225,"b":238,"st":"red"},{"row":4,"a":238,"b":249.5,"st":"black"},
{"row":3,"a":0.5,"b":3.5,"st":"gray"},{"row":3,"a":3.5,"b":11,"st":"lgray"},{"row":3,"a":11,"b":94,"st":"red"},{"row":3,"a":94,"b":102,"st":"green"},{"row":3,"a":102,"b":203,"st":"red"},{"row":3,"a":203,"b":219,"st":"green"},{"row":3,"a":219,"b":238,"st":"red"},{"row":3,"a":238,"b":249.5,"st":"black"},
{"row":2,"a":0.5,"b":17.5,"st":"gray"},{"row":2,"a":17.5,"b":48.5,"st":"red"},{"row":2,"a":48.5,"b":52.5,"st":"green"},{"row":2,"a":52.5,"b":92,"st":"red"},{"row":2,"a":92,"b":102,"st":"green"},{"row":2,"a":102,"b":116,"st":"red"},{"row":2,"a":116,"b":120,"st":"green"},{"row":2,"a":120,"b":176,"st":"red"},{"row":2,"a":176,"b":181,"st":"green"},{"row":2,"a":181,"b":185,"st":"red"},{"row":2,"a":185,"b":190,"st":"green"},{"row":2,"a":190,"b":200,"st":"red"},{"row":2,"a":200,"b":219,"st":"green"},{"row":2,"a":219,"b":238,"st":"red"},{"row":2,"a":238,"b":249.5,"st":"black"},
{"row":1,"a":0.5,"b":9.5,"st":"gray"},{"row":1,"a":9.5,"b":30,"st":"red"},{"row":1,"a":30,"b":33.5,"st":"green"},{"row":1,"a":33.5,"b":42,"st":"red"},{"row":1,"a":42,"b":45,"st":"green"},{"row":1,"a":45,"b":48.5,"st":"red"},{"row":1,"a":48.5,"b":52.5,"st":"green"},{"row":1,"a":52.5,"b":63,"st":"red"},{"row":1,"a":63,"b":67,"st":"green"},{"row":1,"a":67,"b":90,"st":"red"},{"row":1,"a":90,"b":100,"st":"green"},{"row":1,"a":100,"b":145.5,"st":"red"},{"row":1,"a":145.5,"b":151,"st":"green"},{"row":1,"a":151,"b":176,"st":"red"},{"row":1,"a":176,"b":181,"st":"green"},{"row":1,"a":181,"b":187,"st":"red"},{"row":1,"a":187,"b":191,"st":"green"},{"row":1,"a":191,"b":200,"st":"red"},{"row":1,"a":200,"b":212,"st":"green"},{"row":1,"a":212,"b":229,"st":"red"},{"row":1,"a":229,"b":231,"st":"green"},{"row":1,"a":231,"b":238,"st":"red"},{"row":1,"a":238,"b":249.5,"st":"black"}
],
"valTicks":[{"t":0,"s":"۰"},{"t":110.2,"s":"۱۱۰-۲"},{"t":220.4,"s":"۲۲۰-۴"},{"t":330.6,"s":"۳۳۰-۶"},{"t":440.8,"s":"۴۴۰-۸"},{"t":551,"s":"۵۵۱"}],
"indTicks":[{"t":0,"s":"۰"},{"t":0.24,"s":"۰.۲۴"},{"t":0.48,"s":"۰.۴۸"},{"t":0.72,"s":"۰.۷۲"},{"t":0.96,"s":"۰.۹۶"},{"t":1.2,"s":"۱.۲"}],
"nnTicks":[{"t":0,"s":"۰"},{"t":1,"s":"۱"},{"t":2,"s":"۲"},{"t":3,"s":"۳"},{"t":4,"s":"۴"},{"t":5,"s":"۵"},{"t":6,"s":"۶"}],
"rsiTicks":[{"t":0,"s":"0"},{"t":20,"s":"20"},{"t":40,"s":"40"},{"t":60,"s":"60"},{"t":80,"s":"80"},{"t":100,"s":"100"}]
},
"spacing":20,
"bounds":"flush",
"resolve":{"scale":{"color":"independent","x":"independent","y":"independent"}},
"vconcat":[
{
"width":813,"height":389,
"layer":[
{"data":{"name":"c"},"mark":{"type":"rule","strokeWidth":1},
 "encoding":{"x":{"field":"i","type":"quantitative","scale":{"domain":[0,250],"nice":false,"zero":false,"padding":0},"axis":{"values":[0,50,100,150,200,250],"labels":false,"title":null,"domain":false,"grid":true,"gridColor":"#333333","ticks":true,"tickSize":10,"tickColor":"#000000","tickWidth":1.5}},
  "y":{"field":"l","type":"quantitative","scale":{"domain":[10000,24000],"nice":false,"zero":false},"axis":{"orient":"right","title":null,"values":[10000,12000,14000,16000,18000,20000,22000,24000],"labelOverlap":false,"gridColor":"#444444","domainColor":"#555555","tickColor":"#000000","tickSize":10,"labelFontSize":10,"labelPadding":3,"labelExpr":"replace(replace(replace(replace(replace(replace(replace(replace(replace(replace(format(datum.value,'d'),regexp('0','g'),'۰'),regexp('1','g'),'۱'),regexp('2','g'),'۲'),regexp('3','g'),'۳'),regexp('4','g'),'۴'),regexp('5','g'),'۵'),regexp('6','g'),'۶'),regexp('7','g'),'۷'),regexp('8','g'),'۸'),regexp('9','g'),'۹')"}},
  "y2":{"field":"h"},
  "color":{"condition":{"test":"datum.c > datum.o","value":"#ff0000"},"value":"#008a00"}}},
{"data":{"name":"c"},"mark":{"type":"bar","width":3.2},
 "encoding":{"x":{"field":"i","type":"quantitative"},"y":{"field":"o","type":"quantitative"},"y2":{"field":"c"},
  "color":{"condition":{"test":"datum.c > datum.o","value":"#ff0000"},"value":"#008a00"}}},
{"data":{"name":"ma"},"mark":{"type":"line","strokeWidth":1.2,"interpolate":"monotone"},
 "encoding":{"x":{"field":"i","type":"quantitative"},"y":{"field":"p","type":"quantitative"},
  "color":{"datum":"میانگین متحرک ۱۰ روزه","type":"nominal","scale":{"domain":["حجم","RSI","میانگین متحرک ۱۰ روزه","مسیر احتمالی"],"range":["#9acd32","#ffff00","#a6b52a","#ffffff"]},
   "legend":{"orient":"none","legendX":-99,"legendY":20,"direction":"horizontal","title":null,"padding":0,"labelColor":"white","labelFont":"DejaVu Sans","labelFontSize":9,"labelFontWeight":"bold","symbolSize":625,"symbolStrokeWidth":3,"columnPadding":9,"labelOffset":11,"symbolType":"stroke",
    "encode":{"symbols":{"update":{"shape":{"signal":"datum.value === 'حجم' ? 'M-1,-0.55H1V0.55H-1Z' : 'stroke'"},"fill":{"signal":"datum.value === 'حجم' ? '#9acd32' : 'transparent'"},"stroke":{"signal":"datum.value === 'حجم' ? '#1c3b66' : datum.value === 'RSI' ? '#ffff00' : datum.value === 'مسیر احتمالی' ? '#ffffff' : '#9acd32'"},"strokeWidth":{"signal":"datum.value === 'حجم' ? 1.5 : 3"},"opacity":{"value":1}}}}}}}},
{"data":{"name":"path"},"mark":{"type":"line","strokeWidth":2.5,"interpolate":"monotone"},
 "encoding":{"x":{"field":"i","type":"quantitative"},"y":{"field":"p","type":"quantitative"},
  "color":{"datum":"مسیر احتمالی","type":"nominal"}}}
]
},
{
"width":813,"height":30,
"title":{"text":"حجم","orient":"right","color":"white","font":"DejaVu Sans","fontSize":12,"fontWeight":"bold","offset":6,"anchor":"middle"},
"data":{"name":"c"},
"mark":{"type":"bar","width":2.2,"clip":true},
"encoding":{
 "x":{"field":"i","type":"quantitative","scale":{"domain":[0,250],"nice":false,"zero":false,"padding":0},"axis":{"values":[0,50,100,150,200,250],"labels":false,"title":null,"domain":false,"grid":false,"ticks":true,"tickSize":10,"tickColor":"#000000","tickWidth":1.5}},
 "y":{"field":"v","type":"quantitative","scale":{"domain":[0,6000000],"nice":false},"axis":{"title":null,"values":[0,2000000,4000000,6000000],"labelOverlap":false,"gridColor":"#444444","domain":false,"tickColor":"#3a3a3a","tickSize":9,"labelFontSize":10,"labelPadding":2,"labelExpr":"replace(replace(replace(replace(replace(replace(replace(replace(replace(replace(format(datum.value,'d'),regexp('0','g'),'۰'),regexp('1','g'),'۱'),regexp('2','g'),'۲'),regexp('3','g'),'۳'),regexp('4','g'),'۴'),regexp('5','g'),'۵'),regexp('6','g'),'۶'),regexp('7','g'),'۷'),regexp('8','g'),'۸'),regexp('9','g'),'۹')"}},
 "color":{"condition":{"test":"datum.vk === 'b'","value":"#4a7fc1"},"value":"#9acd32"}}
},
{
"width":813,"height":81,
"title":{"text":"ارزش معاملات","orient":"right","color":"white","font":"DejaVu Sans","fontSize":11,"offset":32,"anchor":"middle"},
"layer":[
{"data":{"name":"c"},"mark":{"type":"bar","width":2.6,"clip":true},
 "encoding":{
 "x":{"field":"i","type":"quantitative","scale":{"domain":[0,250],"nice":false,"zero":false,"padding":0},"axis":{"values":[0,50,100,150,200,250],"labels":false,"title":null,"domain":false,"grid":false,"ticks":true,"tickSize":10,"tickColor":"#000000","tickWidth":1.5}},
 "y":{"field":"val","type":"quantitative","scale":{"domain":[0,551],"nice":false},"axis":{"title":null,"values":[0,110.2,220.4,330.6,440.8,551],"labels":false,"gridColor":"#444444","domain":false,"tickColor":"#3a3a3a","tickSize":9}},
 "color":{"condition":{"test":"datum.vc === 'l'","value":"#6d7f9e"},"value":"#2a4a7c"}}},
{"data":{"name":"valTicks"},"mark":{"type":"text","align":"right","baseline":"middle","dx":-11,"color":"white","font":"DejaVu Sans","fontSize":10,"fontWeight":"bold"},
 "encoding":{"x":{"datum":0,"type":"quantitative"},"y":{"field":"t","type":"quantitative"},"text":{"field":"s"}}},
{"data":{"name":"m3"},"mark":{"type":"line","strokeWidth":1,"clip":true},
 "encoding":{"x":{"field":"i","type":"quantitative"},"y":{"field":"p","type":"quantitative"},
  "color":{"datum":"میانگین سه روزه","type":"nominal","scale":{"domain":["میانگین ۲۲ روزه","میانگین سه روزه"],"range":["#b4f01e","#ff0000"]},
   "legend":{"orient":"none","legendX":10,"legendY":18,"direction":"vertical","title":null,"padding":0,"labelColor":"white","labelFont":"DejaVu Sans","labelFontSize":10,"labelFontWeight":"bold","symbolSize":625,"symbolStrokeWidth":3,"rowPadding":-5,"labelOffset":5,"symbolType":"stroke",
    "encode":{"symbols":{"update":{"strokeWidth":{"value":3}}}}}}}},
{"data":{"name":"m22"},"mark":{"type":"line","strokeWidth":2.5,"interpolate":"monotone"},
 "encoding":{"x":{"field":"i","type":"quantitative"},"y":{"field":"p","type":"quantitative"},
  "color":{"datum":"میانگین ۲۲ روزه","type":"nominal"}}}
]
},
{
"width":813,"height":36,
"layer":[
{"data":{"name":"c"},"mark":{"type":"bar","width":3.3},
 "encoding":{
 "x":{"field":"i","type":"quantitative","scale":{"domain":[0,250],"nice":false,"zero":false,"padding":0},"axis":{"values":[0,50,100,150,200,250],"labels":false,"title":null,"domain":false,"grid":false,"ticks":true,"tickSize":10,"tickColor":"#000000","tickWidth":1.5}},
 "y":{"datum":1.0,"type":"quantitative","scale":{"domain":[0,1.2],"nice":false},"axis":{"title":null,"values":[0,0.24,0.48,0.72,0.96,1.2],"labels":false,"gridColor":"#444444","domain":false,"tickColor":"#3a3a3a","tickSize":9}},
 "y2":{"datum":0.12},
 "color":{"field":"s","type":"ordinal","scale":{"domain":[0,1,2,3],"range":["#1e3960","#34465a","#8a8a2e","#f0f040"]},"legend":null}}},
{"data":{"name":"indTicks"},"mark":{"type":"text","align":"right","baseline":"middle","dx":-11,"color":"white","font":"DejaVu Sans","fontSize":8,"fontWeight":"bold"},
 "encoding":{"x":{"datum":0,"type":"quantitative"},"y":{"field":"t","type":"quantitative"},"text":{"field":"s"}}},
{"data":{"values":[{}]},"mark":{"type":"text","align":"right","baseline":"middle","color":"white","font":"DejaVu Sans","fontSize":12},
 "encoding":{"x":{"datum":249,"type":"quantitative"},"y":{"datum":0.8,"type":"quantitative"},"text":{"value":"اندیکاتور اختصاصی پول هوشمند اکسچارت نسخه ۲.۱"}}}
]
},
{
"width":799,"height":80,
"layer":[
{"data":{"name":"nn"},"mark":{"type":"rule","strokeWidth":4,"strokeCap":"round"},
 "encoding":{
 "x":{"field":"a","type":"quantitative","scale":{"domain":[0,250],"nice":false,"zero":false},"axis":{"values":[0,50,100,150,200,250],"labels":false,"title":null,"domain":false,"grid":false,"ticks":true,"tickSize":10,"tickColor":"#000000","tickWidth":1.5}},
 "x2":{"field":"b"},
 "y":{"field":"row","type":"quantitative","scale":{"domain":[0,6],"nice":false},"axis":{"title":null,"values":[0,1,2,3,4,5,6],"labels":false,"gridColor":"#444444","domainColor":"#444444","tickColor":"#3a3a3a","tickSize":9}},
 "color":{"field":"st","type":"nominal","scale":{"domain":["gray","lgray","red","green","black"],"range":["#808080","#b4b4b4","#ff0000","#8cc63f","#000000"]},"legend":null}}},
{"data":{"name":"nnTicks"},"mark":{"type":"text","align":"right","baseline":"middle","dx":-11,"color":"white","font":"DejaVu Sans","fontSize":10,"fontWeight":"bold"},
 "encoding":{"x":{"datum":0,"type":"quantitative"},"y":{"field":"t","type":"quantitative"},"text":{"field":"s"}}},
{"data":{"values":[{}]},"mark":{"type":"text","align":"left","baseline":"middle","color":"white","font":"Liberation Sans","fontSize":13,"fontWeight":"bold"},
 "encoding":{"x":{"datum":12.5,"type":"quantitative"},"y":{"datum":3,"type":"quantitative"},"text":{"value":"XCHART Neural Price Action"}}},
{"data":{"values":[{}]},"mark":{"type":"text","align":"right","baseline":"middle","color":"white","font":"DejaVu Sans","fontSize":11},
 "encoding":{"x":{"datum":248.5,"type":"quantitative"},"y":{"datum":5,"type":"quantitative"},"text":{"value":"هوش مصنوعی اکسچارت ویژه کاربران فعال"}}}
]
},
{
"width":799,"height":100,
"title":{"text":"RSI","orient":"right","color":"white","font":"DejaVu Sans","fontSize":11,"offset":14,"anchor":"middle"},
"layer":[
{"data":{"values":[{"a":0,"b":30},{"a":70,"b":100}]},"mark":{"type":"rect","color":"#555555"},
 "encoding":{
 "x":{"datum":0,"type":"quantitative","scale":{"domain":[0,250],"nice":false,"zero":false},"axis":{"values":[0,50,100,150,200,250],"title":null,"domain":false,"grid":false,"ticks":false,"labelOverlap":false,"labelFont":"Liberation Sans","labelFontSize":11,"labelPadding":12,"labelExpr":"datum.value == 0 ? '0' : datum.value == 50 ? '1402/09/18' : datum.value == 100 ? '1402/11/30' : datum.value == 150 ? '1403/02/25' : datum.value == 200 ? '1403/06/25' : '250'"}},
 "x2":{"datum":250},
 "y":{"field":"a","type":"quantitative","scale":{"domain":[0,100],"nice":false},"axis":{"title":null,"values":[0,20,40,60,80,100],"labels":false,"gridColor":"#3a3a3a","domain":false,"ticks":false}},
 "y2":{"field":"b"}}},
{"data":{"name":"rsiTicks"},"mark":{"type":"text","align":"right","baseline":"middle","dx":-10,"color":"white","font":"Liberation Sans","fontSize":11,"fontWeight":"bold"},
 "encoding":{"x":{"datum":0,"type":"quantitative"},"y":{"field":"t","type":"quantitative"},"text":{"field":"s"}}},
{"data":{"values":[{"y":30},{"y":70}]},"mark":{"type":"rule","color":"white","strokeWidth":1.5},
 "encoding":{"y":{"field":"y","type":"quantitative"}}},
{"data":{"values":[{}]},"mark":{"type":"rule","color":"white","strokeWidth":1.5},
 "encoding":{"x":{"datum":250,"type":"quantitative"}}},
{"data":{"name":"rsi"},"mark":{"type":"line","color":"#ffff00","strokeWidth":2},
 "encoding":{"x":{"field":"i","type":"quantitative"},"y":{"field":"r","type":"quantitative"}}}
]
}
]
}
